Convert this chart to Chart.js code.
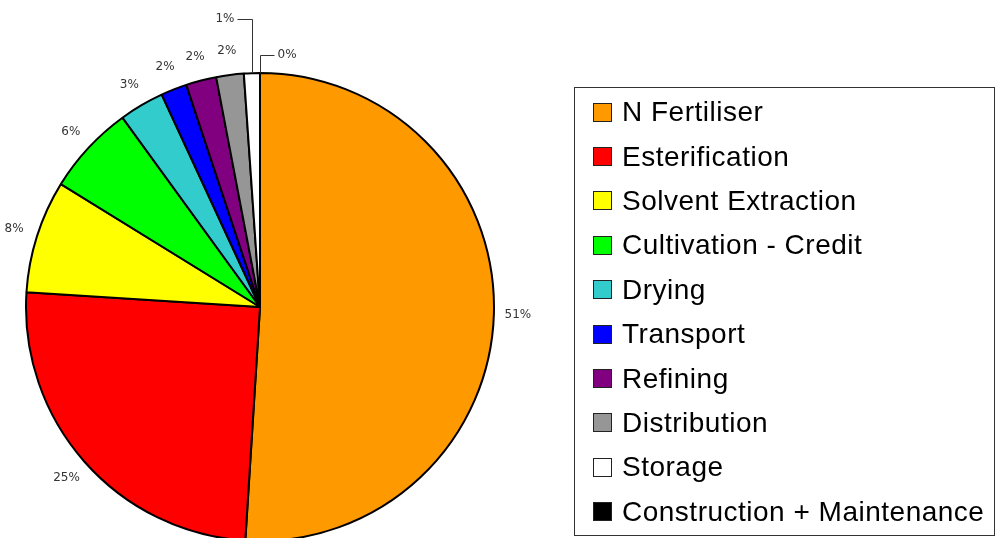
<!DOCTYPE html>
<html>
<head>
<meta charset="utf-8">
<script src="https://cdn.jsdelivr.net/npm/chart.js@4/dist/chart.umd.min.js"></script>
<style>
  body { margin: 0; background: #fff; }
  #wrap { position: relative; width: 998px; height: 538px; overflow: hidden; }
  #legend {
    position: absolute; left: 574px; top: 87px; width: 421px; height: 449px;
    box-sizing: border-box; border: 1.5px solid #333; padding-top: 2px;
    font-family: "Liberation Sans", Arial, sans-serif; font-size: 28px; letter-spacing: 0.5px; color: #000;
  }
  .row { height: 44.4px; display: flex; align-items: center; }
  .sw { width: 17px; height: 17px; border: 1.5px solid #222; margin-left: 18px; margin-right: 10px; flex: none; }
</style>
</head>
<body>
<div id="wrap">
  <canvas id="pie" width="998" height="538"></canvas>
  <div id="legend"></div>
</div>
<script>
// categories, clockwise from 12 o'clock
const categories = ['N Fertiliser', 'Esterification', 'Solvent Extraction', 'Cultivation - Credit',
  'Drying', 'Transport', 'Refining', 'Distribution', 'Storage', 'Construction + Maintenance'];
// share of total (%)
const shares = [51.0, 25.0, 7.8, 6.2, 3.1, 1.8, 2.1, 1.9, 1.1, 0];
const colors = ['#ff9900', '#ff0000', '#ffff00', '#00ff00', '#33cccc',
  '#0000ff', '#800080', '#969696', '#ffffff', '#000000'];

// legend
const legend = document.getElementById('legend');
categories.forEach((c, i) => {
  const row = document.createElement('div');
  row.className = 'row';
  row.innerHTML = '<span class="sw" style="background:' + colors[i] + '"></span><span>' + c + '</span>';
  legend.appendChild(row);
});

const pctPlugin = {
  id: 'pctPlugin',
  afterDatasetsDraw(chart) {
    const ctx = chart.ctx;
    const meta = chart.getDatasetMeta(0);
    const total = shares.reduce((a, b) => a + b, 0);
    ctx.save();
    ctx.font = '12px "DejaVu Sans", sans-serif';
    ctx.fillStyle = '#333';
    ctx.strokeStyle = '#333';
    ctx.lineWidth = 1;
    ctx.textBaseline = 'middle';
    meta.data.forEach((arc, i) => {
      const cx = arc.x, cy = arc.y, R = arc.outerRadius;
      const mid = (arc.startAngle + arc.endAngle) / 2;
      const v = shares[i];
      const txt = Math.round(v / total * 100) + '%';
      if (v < 1.5) {
        // leader line for the tiny slices near the top
        const last = i === shares.length - 1;
        const px = Math.round(cx + R * Math.cos(mid)) + 0.5;
        const py = cy + R * Math.sin(mid);
        const ey = Math.round(py - (last ? 18 : 54)) + 0.5;
        const ex = px + (last ? 14 : -15);
        ctx.beginPath();
        ctx.moveTo(px, py);
        ctx.lineTo(px, ey);
        ctx.lineTo(ex, ey);
        ctx.stroke();
        ctx.textAlign = last ? 'left' : 'right';
        ctx.fillText(txt, ex + (last ? 3 : -3), ey - 1);
      } else {
        const r = R + 24;
        ctx.textAlign = 'center';
        ctx.fillText(txt, cx + r * Math.cos(mid), cy + r * Math.sin(mid));
      }
    });
    ctx.restore();
  }
};

new Chart(document.getElementById('pie'), {
  type: 'pie',
  data: {
    labels: categories,
    datasets: [{
      data: shares,
      backgroundColor: colors,
      borderColor: '#000',
      borderWidth: 2
    }]
  },
  options: {
    responsive: false,
    animation: false,
    radius: 234,
    layout: { padding: { left: 0, right: 478, top: 76, bottom: 0 } },
    plugins: {
      legend: { display: false },
      tooltip: { enabled: false }
    }
  },
  plugins: [pctPlugin]
});
</script>
</body>
</html>
